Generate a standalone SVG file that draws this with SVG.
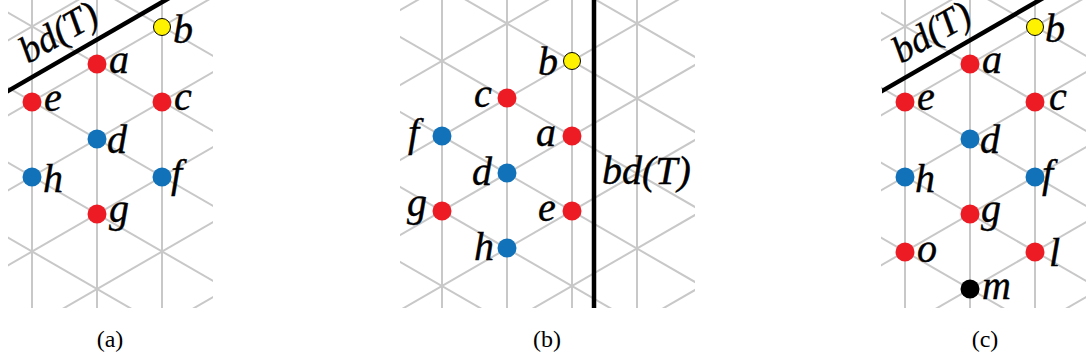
<svg xmlns="http://www.w3.org/2000/svg" xmlns:xlink="http://www.w3.org/1999/xlink" width="1086" height="362" viewBox="0 0 1086 362">
<style>
.grid line{stroke:#c8c8c8;stroke-width:2}
.bd{stroke:#000;stroke-width:4.5;stroke-linecap:butt}
.lbl{font-style:italic;font-size:40px;fill:#000;stroke:#000;stroke-width:0.4}
.rot{font-size:38px}
.cap{font-size:24px;fill:#000;text-anchor:middle}
.r{fill:#ed1c24}
.bl{fill:#1172ba}
.y{fill:#fff200;stroke:#000;stroke-width:1}
.k{fill:#000}
</style>
<defs>
<clipPath id="clipA"><rect x="8" y="0" width="205" height="308"/></clipPath>
<clipPath id="clipB"><rect x="400" y="0" width="295" height="308"/></clipPath>
<g id="gridA" class="grid" clip-path="url(#clipA)">
<line x1="32" y1="0" x2="32" y2="308"/>
<line x1="97" y1="0" x2="97" y2="308"/>
<line x1="162" y1="0" x2="162" y2="308"/>
<line x1="0" y1="45" x2="220" y2="-81.9"/>
<line x1="0" y1="120" x2="220" y2="-6.9"/>
<line x1="0" y1="195" x2="220" y2="68.1"/>
<line x1="0" y1="270" x2="220" y2="143.1"/>
<line x1="0" y1="345" x2="220" y2="218.1"/>
<line x1="0" y1="420" x2="220" y2="293.1"/>
<line x1="0" y1="-67" x2="220" y2="59.9"/>
<line x1="0" y1="8" x2="220" y2="134.9"/>
<line x1="0" y1="83" x2="220" y2="209.9"/>
<line x1="0" y1="158" x2="220" y2="284.9"/>
<line x1="0" y1="233" x2="220" y2="359.9"/>
<line x1="0" y1="308" x2="220" y2="434.9"/>
</g>
<g id="bdA" clip-path="url(#clipA)">
<line class="bd" x1="0" y1="95.6" x2="172" y2="-3.6"/>
</g>
</defs>

<g font-family="Liberation Serif, Times New Roman, serif">
<!-- Panel (a) -->
<g id="panel-a">
<use xlink:href="#gridA" href="#gridA"/>
<g id="connectors-a"><use xlink:href="#bdA" href="#bdA"/></g>
<text class="lbl rot" transform="translate(28,64) rotate(-30)">bd(T)</text>
<g id="a-b"><circle class="y" cx="162" cy="27" r="8.5"/><text class="lbl" x="173" y="43">b</text></g>
<g id="a-a"><circle class="r" cx="97" cy="64" r="9.5"/><text class="lbl" x="109" y="73">a</text></g>
<g id="a-e"><circle class="r" cx="32" cy="102" r="9.5"/><text class="lbl" x="44" y="111">e</text></g>
<g id="a-c"><circle class="r" cx="162" cy="102" r="9.5"/><text class="lbl" x="174" y="110">c</text></g>
<g id="a-d"><circle class="bl" cx="97" cy="139" r="9.5"/><text class="lbl" x="107" y="153">d</text></g>
<g id="a-h"><circle class="bl" cx="32" cy="177" r="9.5"/><text class="lbl" x="43" y="192">h</text></g>
<g id="a-f"><circle class="bl" cx="162" cy="177" r="9.5"/><text class="lbl" x="171" y="187">f</text></g>
<g id="a-g"><circle class="r" cx="97" cy="214" r="9.5"/><text class="lbl" x="109" y="222">g</text></g>
<text class="cap" x="110" y="347">(a)</text>
</g>

<!-- Panel (b) -->
<g id="panel-b">
<g class="grid" clip-path="url(#clipB)">
<line x1="442" y1="0" x2="442" y2="308"/>
<line x1="507" y1="0" x2="507" y2="308"/>
<line x1="572" y1="0" x2="572" y2="308"/>
<line x1="637" y1="0" x2="637" y2="308"/>
<line x1="395" y1="13.1" x2="700" y2="-162.9"/>
<line x1="395" y1="88.1" x2="700" y2="-87.9"/>
<line x1="395" y1="163.1" x2="700" y2="-12.9"/>
<line x1="395" y1="238.1" x2="700" y2="62.1"/>
<line x1="395" y1="313.1" x2="700" y2="137.1"/>
<line x1="395" y1="388.1" x2="700" y2="212.1"/>
<line x1="395" y1="463.1" x2="700" y2="287.1"/>
<line x1="395" y1="-116.1" x2="700" y2="59.9"/>
<line x1="395" y1="-41.1" x2="700" y2="134.9"/>
<line x1="395" y1="33.9" x2="700" y2="209.9"/>
<line x1="395" y1="108.9" x2="700" y2="284.9"/>
<line x1="395" y1="183.9" x2="700" y2="359.9"/>
<line x1="395" y1="258.9" x2="700" y2="434.9"/>
</g>
<g id="connectors-b"><line class="bd" x1="594" y1="0" x2="594" y2="308"/></g>
<text class="lbl" x="602" y="184">bd(T)</text>
<g id="b-b"><circle class="y" cx="572" cy="61" r="8.5"/><text class="lbl" x="538" y="75">b</text></g>
<g id="b-c"><circle class="r" cx="507" cy="98" r="9.5"/><text class="lbl" x="474" y="107">c</text></g>
<g id="b-f"><circle class="bl" cx="442" cy="136" r="9.5"/><text class="lbl" x="408" y="146">f</text></g>
<g id="b-a"><circle class="r" cx="572" cy="136" r="9.5"/><text class="lbl" x="536" y="146">a</text></g>
<g id="b-d"><circle class="bl" cx="507" cy="173" r="9.5"/><text class="lbl" x="472" y="185">d</text></g>
<g id="b-g"><circle class="r" cx="442" cy="211" r="9.5"/><text class="lbl" x="407" y="216">g</text></g>
<g id="b-e"><circle class="r" cx="572" cy="211" r="9.5"/><text class="lbl" x="538" y="221">e</text></g>
<g id="b-h"><circle class="bl" cx="507" cy="248" r="9.5"/><text class="lbl" x="474" y="260">h</text></g>
<text class="cap" x="547" y="347">(b)</text>
</g>

<!-- Panel (c) -->
<g id="panel-c">
<use xlink:href="#gridA" href="#gridA" x="873"/>
<g id="connectors-c"><use xlink:href="#bdA" href="#bdA" x="874"/></g>
<text class="lbl rot" transform="translate(901,64) rotate(-30)">bd(T)</text>
<g id="c-b"><circle class="y" cx="1035" cy="27" r="8.5"/><text class="lbl" x="1045" y="42">b</text></g>
<g id="c-a"><circle class="r" cx="970" cy="64" r="9.5"/><text class="lbl" x="982" y="73">a</text></g>
<g id="c-e"><circle class="r" cx="905" cy="102" r="9.5"/><text class="lbl" x="917" y="110">e</text></g>
<g id="c-c"><circle class="r" cx="1035" cy="102" r="9.5"/><text class="lbl" x="1049" y="110">c</text></g>
<g id="c-d"><circle class="bl" cx="970" cy="139" r="9.5"/><text class="lbl" x="980" y="153">d</text></g>
<g id="c-h"><circle class="bl" cx="905" cy="177" r="9.5"/><text class="lbl" x="915" y="192">h</text></g>
<g id="c-f"><circle class="bl" cx="1035" cy="177" r="9.5"/><text class="lbl" x="1042" y="187">f</text></g>
<g id="c-g"><circle class="r" cx="970" cy="214" r="9.5"/><text class="lbl" x="981" y="222">g</text></g>
<g id="c-o"><circle class="r" cx="905" cy="252" r="9.5"/><text class="lbl" x="917" y="262">o</text></g>
<g id="c-l"><circle class="r" cx="1035" cy="252" r="9.5"/><text class="lbl" x="1049" y="266">l</text></g>
<g id="c-m"><circle class="k" cx="970" cy="289" r="9.5"/><text class="lbl" x="982" y="299">m</text></g>
<text class="cap" x="985" y="347">(c)</text>
</g>
</g>
</svg>
